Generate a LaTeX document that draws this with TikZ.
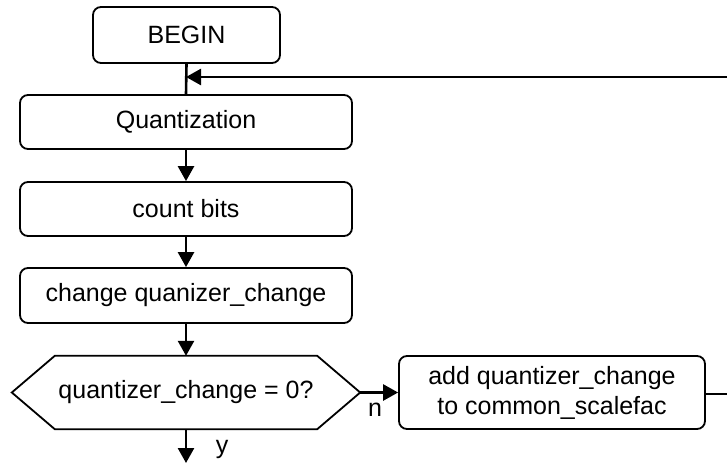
\documentclass[tikz,border=0pt]{standalone}
\usepackage{fontspec}
\setmainfont{Liberation Sans}
\usetikzlibrary{arrows.meta}
\begin{document}
\begin{tikzpicture}[x=1pt,y=-1pt,
  font=\fontsize{25}{30}\selectfont,
  procbox/.style={draw, line width=1.8pt, rounded corners=8pt, align=center,
    inner sep=0pt, minimum height=#1},
  procbox/.default=54pt,
  flow/.style={line width=2.6pt, -{Triangle[length=15pt,width=16pt]}},
  plain/.style={line width=2.6pt}]
\useasboundingbox (0,0) rectangle (727,466);

% process boxes of the main column
\node[procbox=56pt, minimum width=187pt] (begin) at (186.5,35) {BEGIN};
\node[procbox, minimum width=332pt] (quant) at (186,122) {Quantization};
\node[procbox, minimum width=332pt] (count) at (186,209) {count bits};
\node[procbox=55pt, minimum width=332pt] (chg) at (186,295.5) {change quanizer\_change};

% decision: hexagon drawn round an invisible node
\node[minimum width=348pt, minimum height=73pt, inner sep=0pt] (dec) at (186,392.5)
  {quantizer\_change = 0?};
\draw[line width=1.8pt, line join=miter]
  (dec.west) -- ([xshift=43pt]dec.north west) -- ([xshift=-43pt]dec.north east)
  -- (dec.east) -- ([xshift=-43pt]dec.south east) -- ([xshift=43pt]dec.south west)
  -- cycle;

% side branch
\node[procbox=73pt, minimum width=306pt] (add) at (552,392.5)
  {add quantizer\_change\\to common\_scalefac};

% loose ends at the picture border
\coordinate (exitdown) at (186,463);
\coordinate (rightlow) at (727,394);
\coordinate (righttop) at (727,77);
\coordinate (join) at (186,77);

% connectors
\draw[plain] (begin.south) -- (quant.north);
\draw[flow] (quant) -- (count);
\draw[flow] (count) -- (chg);
\draw[flow] (chg) -- (dec.north);
\draw[flow] (dec.south) -- (exitdown);
\draw[flow] (dec.east) -- (add.west);
\draw[plain] (add.east |- rightlow) -- (rightlow);
\draw[flow] (righttop) -- (join);

% branch labels
\node at (222,449) {y};
\node at (375,410) {n};
\end{tikzpicture}
\end{document}
